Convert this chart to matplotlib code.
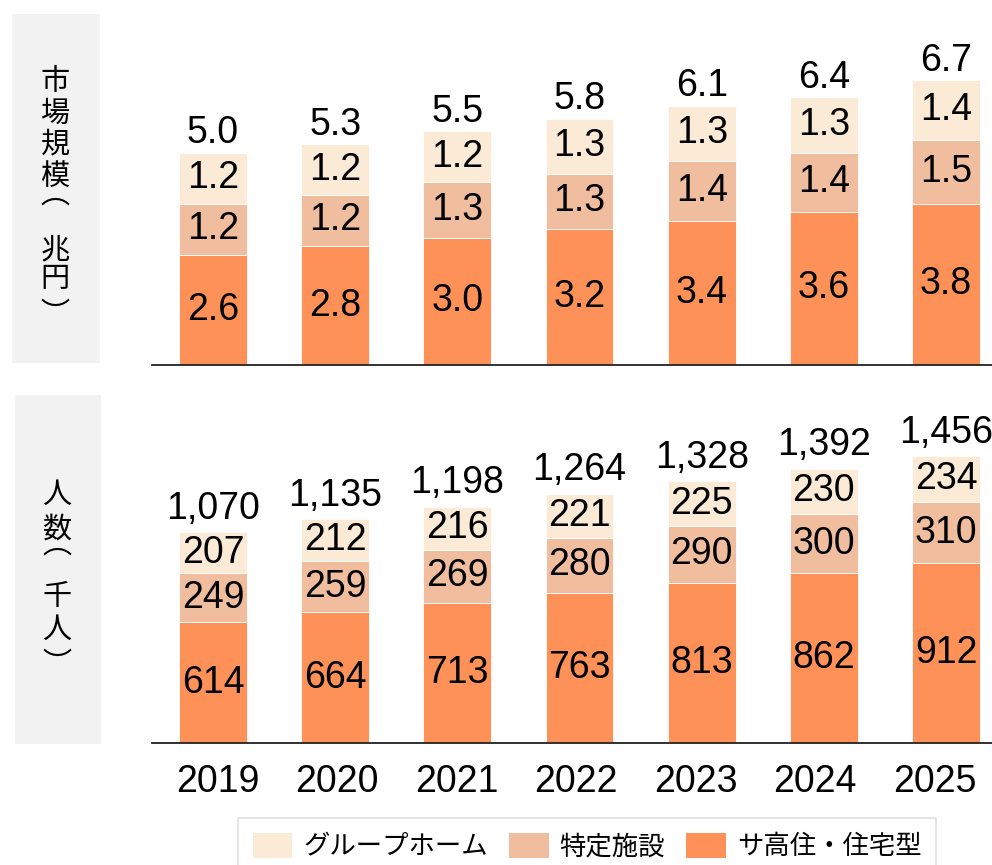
import matplotlib
matplotlib.use("Agg")
import matplotlib.pyplot as plt
from matplotlib.patches import Rectangle, Patch
import numpy as np

plt.rcParams['font.family'] = ['Liberation Sans', 'Noto Sans CJK JP', 'DejaVu Sans']

years = ['2019', '2020', '2021', '2022', '2023', '2024', '2025']
series_names = ['グループホーム', '特定施設', 'サ高住・住宅型']

# market size (trillion yen)
market_sakoju = [2.6, 2.8, 3.0, 3.2, 3.4, 3.6, 3.8]
market_tokutei = [1.2, 1.2, 1.3, 1.3, 1.4, 1.4, 1.5]
market_group = [1.2, 1.2, 1.2, 1.3, 1.3, 1.3, 1.4]
market_total = [5.0, 5.3, 5.5, 5.8, 6.1, 6.4, 6.7]

# residents (thousand people)
people_sakoju = [614, 664, 713, 763, 813, 862, 912]
people_tokutei = [249, 259, 269, 280, 290, 300, 310]
people_group = [207, 212, 216, 221, 225, 230, 234]
people_total = [1070, 1135, 1198, 1264, 1328, 1392, 1456]

c_group = '#FBEAD5'
c_tokutei = '#F0BE9E'
c_sakoju = '#FD9158'

W, H = 992, 865
fig = plt.figure(figsize=(W / 100, H / 100), dpi=100)

def fx(x):
    return x / W

def fy(y):
    return 1 - y / H

# gray label boxes
fig.patches.append(Rectangle((fx(12), fy(363)), fx(88), 349 / H, transform=fig.transFigure,
                             facecolor='#F2F2F2', edgecolor='none', zorder=0))
fig.patches.append(Rectangle((fx(15), fy(744)), fx(86), 349 / H, transform=fig.transFigure,
                             facecolor='#F2F2F2', edgecolor='none', zorder=0))

# vertical labels
top_chars = [('市', 82), ('場', 114), ('規', 145), ('模', 177), ('︵', 195),
             ('兆', 250), ('円', 279), ('︶', 315)]
for ch, y in top_chars:
    fig.text(fx(55), fy(y), ch, ha='center', va='center', fontsize=21,
             family=['Noto Sans CJK JP', 'DejaVu Sans'])
bot_chars = [('人', 495), ('数', 530), ('︵', 545), ('千', 597), ('人', 630), ('︶', 665)]
for ch, y in bot_chars:
    fig.text(fx(57), fy(y), ch, ha='center', va='center', fontsize=21,
             family=['Noto Sans CJK JP', 'DejaVu Sans'])

x = np.arange(len(years))
bw = 0.556
xlim = (-0.499, 6.376)

ax1 = fig.add_axes([fx(152), fy(365), 840 / W, 365 / H])
ax2 = fig.add_axes([fx(152), fy(743), 840 / W, 363 / H])

def draw(ax, s1, s2, s3, total, fmt_seg, fmt_tot, ymax, tot_off):
    b1 = ax.bar(x, s1, bw, color=c_sakoju, edgecolor='white', linewidth=0.6)
    b2 = ax.bar(x, s2, bw, bottom=s1, color=c_tokutei, edgecolor='white', linewidth=0.6)
    bottom3 = np.array(s1) + np.array(s2)
    b3 = ax.bar(x, s3, bw, bottom=bottom3, color=c_group, edgecolor='white', linewidth=0.6)
    for bars, vals in ((b1, s1), (b2, s2), (b3, s3)):
        for rect, v in zip(bars, vals):
            ax.text(rect.get_x() + rect.get_width() / 2, rect.get_y() + rect.get_height() / 2,
                    fmt_seg(v), ha='center', va='center', fontsize=27, color='black')
    top = bottom3 + np.array(s3)
    for xi, t, v in zip(x, top, total):
        ax.annotate(fmt_tot(v), (xi, t), xytext=(0, tot_off), textcoords='offset points',
                    ha='center', va='bottom', fontsize=27, color='black')
    ax.set_xlim(*xlim)
    ax.set_ylim(0, ymax)
    for s in ('top', 'right', 'left'):
        ax.spines[s].set_visible(False)
    ax.spines['bottom'].set_color('#222222')
    ax.spines['bottom'].set_linewidth(1.3)
    ax.set_yticks([])
    ax.patch.set_alpha(0)

draw(ax1, market_sakoju, market_tokutei, market_group, market_total,
     lambda v: f'{v:.1f}', lambda v: f'{v:.1f}', 365 / 42.5, 1)
draw(ax2, people_sakoju, people_tokutei, people_group, people_total,
     lambda v: f'{v:,}', lambda v: f'{v:,}', 363 / 0.197, 4)

ax1.set_xticks([])
ax2.set_xticks(x * 0.978 + 0.037)
ax2.set_xticklabels(years, fontsize=27)
ax2.tick_params(axis='x', length=0, pad=15)

handles = [Patch(facecolor=c, edgecolor='none') for c in (c_group, c_tokutei, c_sakoju)]
leg = fig.legend(handles, series_names, loc='upper left', bbox_to_anchor=(fx(238), fy(818)),
                 ncol=3, frameon=True, fancybox=False, edgecolor='#D9D9D9',
                 prop={'family': ['Noto Sans CJK JP'], 'size': 19},
                 handlelength=1.5, handleheight=1.1, handletextpad=0.42,
                 columnspacing=0.8, borderpad=0.55, borderaxespad=0)
leg.get_frame().set_linewidth(1.2)

fig.savefig('out.png', dpi=100)
